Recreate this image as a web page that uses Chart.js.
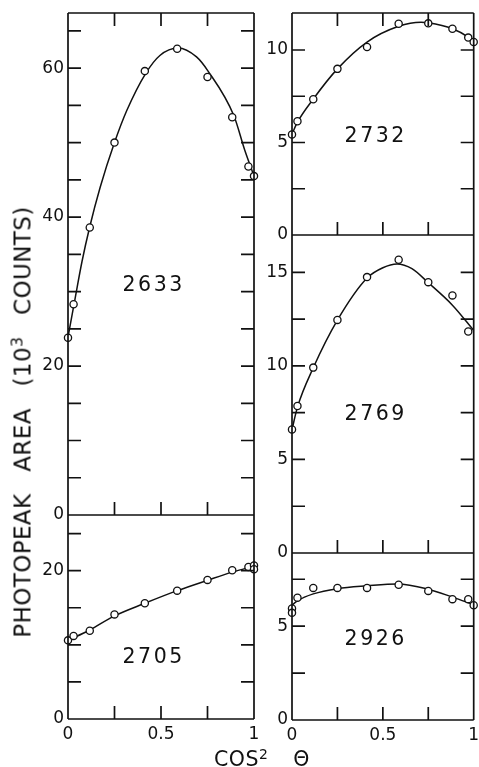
<!DOCTYPE html>
<html>
<head>
<meta charset="utf-8">
<script src="https://cdn.jsdelivr.net/npm/chart.js@4.4.1/dist/chart.umd.min.js"></script>
<style>
html, body { margin: 0; padding: 0; background: #fff; }
#wrap { position: relative; width: 479px; height: 767px; overflow: hidden; }
canvas { position: absolute; left: 0; top: 0; }
.title { position: absolute; font-family: "DejaVu Sans"; color: #111; white-space: nowrap; line-height: 1; }
.title sup { font-size: 68%; vertical-align: 0; position: relative; top: -0.5em; }
#ytitle { left: 23px; top: 422px; font-size: 23px; word-spacing: 14px; letter-spacing: 0.4px;
          transform: translate(-50%, -50%) rotate(-90deg); }
#xtitle { left: 214px; top: 749px; font-size: 20.5px; word-spacing: 18px; letter-spacing: 0.5px; }
</style>
</head>
<body>
<div id="wrap">
  <canvas id="c2633" width="479" height="767"></canvas>
  <canvas id="c2705" width="479" height="767"></canvas>
  <canvas id="c2732" width="479" height="767"></canvas>
  <canvas id="c2769" width="479" height="767"></canvas>
  <canvas id="c2926" width="479" height="767"></canvas>
  <div class="title" id="ytitle">PHOTOPEAK AREA (10<sup>3</sup> COUNTS)</div>
  <div class="title" id="xtitle">COS<sup>2</sup> Θ</div>
</div>
<script>
// cos^2(theta) for theta = 90, 80, ... 0 degrees
const cos2 = [0, 0.030, 0.117, 0.250, 0.413, 0.587, 0.750, 0.883, 0.970, 1.000];
const xTickLabels = [0, 0.5, 1];
const xMinorTicks = [0.25, 0.5, 0.75];

// 2633 keV
const x2633 = cos2;
const area2633 = [23.8, 28.3, 38.6, 50.0, 59.6, 62.6, 58.8, 53.4, 46.8, 45.5];
const fitX2633 = [0, 0.034, 0.075, 0.116, 0.173, 0.25, 0.316, 0.418, 0.494, 0.592, 0.691, 0.753, 0.892, 0.95, 1.0];
const fitY2633 = [23.9, 28.5, 34.0, 38.6, 44.0, 50.0, 54.3, 59.3, 61.7, 62.7, 61.5, 59.6, 53.6, 49.0, 45.5];
const yLabels2633 = [0, 20, 40, 60];
const yMinor2633 = [5, 10, 15, 20, 25, 30, 35, 40, 45, 50, 55, 60, 65];

// 2705 keV
const x2705 = [0, 0.030, 0.117, 0.250, 0.413, 0.587, 0.750, 0.883, 0.970, 1.0, 1.0];
const area2705 = [10.6, 11.2, 11.9, 14.1, 15.6, 17.3, 18.75, 20.05, 20.5, 20.7, 20.2];
const fitX2705 = [0, 0.117, 0.25, 0.413, 0.587, 0.75, 0.883, 1.0];
const fitY2705 = [10.6, 12.0, 13.9, 15.6, 17.3, 18.7, 19.8, 20.6];
const yLabels2705 = [0, 20];
const yMinor2705 = [5, 10, 15, 20, 25];

// 2732 keV
const x2732 = cos2;
const area2732 = [5.43, 6.15, 7.34, 8.98, 10.16, 11.42, 11.44, 11.15, 10.67, 10.43];
const fitX2732 = [0, 0.030, 0.117, 0.25, 0.413, 0.587, 0.71, 0.75, 0.883, 0.970, 1.0];
const fitY2732 = [5.45, 6.1, 7.35, 8.98, 10.43, 11.28, 11.5, 11.47, 11.15, 10.7, 10.45];
const yLabels2732 = [0, 5, 10];
const yMinor2732 = [2.5, 5, 7.5, 10];

// 2769 keV
const x2769 = cos2.slice(0, 9);
const area2769 = [6.6, 7.86, 9.91, 12.46, 14.75, 15.68, 14.48, 13.77, 11.84];
const fitX2769 = [0, 0.030, 0.117, 0.25, 0.413, 0.5, 0.578, 0.66, 0.75, 0.883, 1.0];
const fitY2769 = [6.6, 7.8, 9.9, 12.45, 14.7, 15.25, 15.45, 15.2, 14.45, 13.25, 11.9];
const yLabels2769 = [0, 5, 10, 15];
const yMinor2769 = [2.5, 5, 7.5, 10, 12.5, 15];

// 2926 keV
const x2926 = [0, 0, 0.030, 0.117, 0.250, 0.413, 0.587, 0.750, 0.883, 0.970, 1.0];
const area2926 = [5.94, 5.71, 6.52, 7.04, 7.04, 7.04, 7.21, 6.88, 6.44, 6.44, 6.12];
const fitX2926 = [0, 0.030, 0.117, 0.25, 0.413, 0.58, 0.75, 0.883, 1.0];
const fitY2926 = [6.12, 6.35, 6.72, 7.0, 7.15, 7.25, 6.97, 6.55, 6.15];
const yLabels2926 = [0, 5];
const yMinor2926 = [2.5, 5, 7.5];

const W = 479, H = 767;
const INK = '#111';
const YW = 44;   // room kept for y tick labels
const XH = 28;   // room kept for x tick labels

// box with inward ticks + energy label
const framePlugin = {
    id: 'frame',
    afterDraw(chart, args, o) {
        const { ctx, chartArea: a, scales: { x, y } } = chart;
        const L = 13;
        ctx.save();
        ctx.strokeStyle = INK;
        ctx.lineWidth = 1.7;
        ctx.beginPath();
        ctx.moveTo(a.left, a.top); ctx.lineTo(a.left, a.bottom);
        ctx.moveTo(a.right, a.top); ctx.lineTo(a.right, a.bottom);
        ctx.moveTo(a.left, a.bottom); ctx.lineTo(a.right, a.bottom);
        if (o.top) { ctx.moveTo(a.left, a.top); ctx.lineTo(a.right, a.top); }
        o.minor.forEach(v => {
            const py = y.getPixelForValue(v);
            ctx.moveTo(a.left, py); ctx.lineTo(a.left + L, py);
            ctx.moveTo(a.right, py); ctx.lineTo(a.right - L, py);
        });
        xMinorTicks.forEach(v => {
            const px = x.getPixelForValue(v);
            ctx.moveTo(px, a.bottom); ctx.lineTo(px, a.bottom - L);
            if (o.top) { ctx.moveTo(px, a.top); ctx.lineTo(px, a.top + L); }
        });
        ctx.stroke();

        ctx.fillStyle = INK;
        ctx.font = '20.5px "DejaVu Sans"';
        ctx.letterSpacing = '2.5px';
        ctx.textAlign = 'center';
        ctx.textBaseline = 'middle';
        ctx.fillText(o.label, x.getPixelForValue(0.455) + 1, y.getPixelForValue(o.labelAt));
        ctx.restore();
    }
};

function makePanel(id, p) {
    const pts = p.xs.map((v, i) => ({ x: v, y: p.ys[i] }));
    const fit = p.fitX.map((v, i) => ({ x: v, y: p.fitY[i] }));
    return new Chart(document.getElementById(id), {
        type: 'scatter',
        data: {
            datasets: [{
                data: pts,
                pointRadius: 3.6,
                pointBackgroundColor: '#fff',
                pointBorderColor: INK,
                pointBorderWidth: 1.3,
                showLine: false,
                clip: false
            }, {
                data: fit,
                showLine: true,
                pointRadius: 0,
                borderColor: INK,
                borderWidth: 1.5,
                cubicInterpolationMode: 'monotone',
                clip: false
            }]
        },
        options: {
            responsive: false,
            animation: false,
            events: [],
            layout: {
                padding: { left: p.box[0] - YW, top: p.box[1], right: W - p.box[2], bottom: H - p.box[3] - XH }
            },
            plugins: {
                legend: { display: false },
                tooltip: { enabled: false },
                frame: { top: p.top, minor: p.minor, label: p.label, labelAt: p.labelAt }
            },
            scales: {
                x: {
                    type: 'linear', min: 0, max: 1,
                    grid: { display: false, drawTicks: false },
                    border: { display: false },
                    ticks: { display: p.xLabels, color: INK, padding: 5, font: { family: 'DejaVu Sans', size: 17 },
                             maxRotation: 0, autoSkip: false, callback: v => String(v) },
                    afterBuildTicks: s => { s.ticks = xTickLabels.map(v => ({ value: v })); },
                    afterFit: s => { s.height = XH; s.paddingLeft = 0; s.paddingRight = 0; }
                },
                y: {
                    type: 'linear', min: 0, max: p.max,
                    grid: { display: false, drawTicks: false },
                    border: { display: false },
                    ticks: { color: INK, padding: 4, font: { family: 'DejaVu Sans', size: 17 }, autoSkip: false,
                             callback: v => String(v) },
                    afterBuildTicks: s => { s.ticks = p.yLabels.map(v => ({ value: v })); },
                    afterFit: s => { s.width = YW; s.paddingTop = 0; s.paddingBottom = 0; }
                }
            }
        },
        plugins: [framePlugin]
    });
}

makePanel('c2633', { xs: x2633, ys: area2633, fitX: fitX2633, fitY: fitY2633, yLabels: yLabels2633, minor: yMinor2633,
    box: [68, 13, 254, 515], max: 67.4, top: true, xLabels: false, label: '2633', labelAt: 30.8 });
makePanel('c2705', { xs: x2705, ys: area2705, fitX: fitX2705, fitY: fitY2705, yLabels: yLabels2705, minor: yMinor2705,
    box: [68, 515, 254, 719], max: 27.5, top: false, xLabels: true, label: '2705', labelAt: 8.25 });
makePanel('c2732', { xs: x2732, ys: area2732, fitX: fitX2732, fitY: fitY2732, yLabels: yLabels2732, minor: yMinor2732,
    box: [292, 13, 478, 235], max: 12.0, top: true, xLabels: false, label: '2732', labelAt: 5.3 });
makePanel('c2769', { xs: x2769, ys: area2769, fitX: fitX2769, fitY: fitY2769, yLabels: yLabels2769, minor: yMinor2769,
    box: [292, 235, 478, 553], max: 17.0, top: false, xLabels: false, label: '2769', labelAt: 7.37 });
makePanel('c2926', { xs: x2926, ys: area2926, fitX: fitX2926, fitY: fitY2926, yLabels: yLabels2926, minor: yMinor2926,
    box: [292, 553, 478, 720], max: 8.9, top: false, xLabels: true, label: '2926', labelAt: 4.26 });
</script>
</body>
</html>
